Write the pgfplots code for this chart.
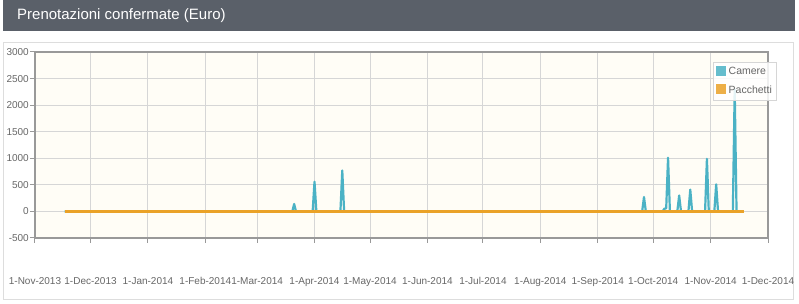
\documentclass[border=0pt]{standalone}
\usepackage{pgfplots}
\pgfplotsset{compat=1.18}
\usepackage{fontspec}
\setmainfont{Liberation Sans}
\definecolor{titlebar}{HTML}{5A6069}
\definecolor{panelborder}{HTML}{DDDDDD}
\definecolor{plotbg}{HTML}{FFFDF6}
\definecolor{gridc}{HTML}{D6D6D6}
\definecolor{axisc}{HTML}{999999}
\definecolor{tickc}{HTML}{666666}
\definecolor{camere}{HTML}{4BB2C5}
\definecolor{pacchetti}{HTML}{EAA228}
\begin{document}
\begin{tikzpicture}[x=1pt,y=1pt]
\useasboundingbox (0,0) rectangle (799,304);
\fill[titlebar] (3,273) rectangle (795,304);
\node[anchor=west,text=white,font=\fontsize{15}{18}\selectfont,inner sep=0pt] at (17,288) {Prenotazioni confermate (Euro)};
\draw[panelborder,line width=1pt] (3.5,261) rectangle (793.5,4.5);
\begin{axis}[
  at={(35pt,66pt)}, anchor=south west,
  scale only axis, width=733pt, height=186pt,
  xmin=0, xmax=396, ymin=-500, ymax=3000,
  xtick={0,30,61,92,120,151,181,212,242,273,304,334,365,396},
  xticklabels={1-Nov-2013,1-Dec-2013,1-Jan-2014,1-Feb-2014,1-Mar-2014,1-Apr-2014,1-May-2014,1-Jun-2014,1-Jul-2014,1-Aug-2014,1-Sep-2014,1-Oct-2014,1-Nov-2014,1-Dec-2014},
  ytick={-500,0,500,1000,1500,2000,2500,3000},
  yticklabels={-500,0,500,1000,1500,2000,2500,3000},
  grid=major,
  grid style={gridc, line width=1pt},
  axis background/.style={fill=plotbg},
  axis line style={axisc, line width=2pt},
  tick style={axisc, line width=1pt},
  major tick length=5pt,
  tick align=outside,
  xtick pos=bottom, ytick pos=left,
  ticklabel style={font=\fontsize{10}{12}\selectfont, text=tickc},
  xticklabel style={yshift=-34pt, inner sep=0pt},
  yticklabel style={inner sep=1pt},
  legend style={at={(1.011,0.946)}, anchor=north east, fill=white, fill opacity=0.85, text opacity=1, draw=gridc, font=\fontsize{10.5}{12}\selectfont, text=tickc, inner xsep=2pt, inner ysep=3pt, row sep=5pt, legend cell align=left},
  clip=true,
]
\addplot[camere, line width=2.2pt, line join=round,
  legend image code/.code={\draw[fill=camere,draw=white,line width=0.5pt] (0pt,-4.5pt) rectangle (11pt,6.5pt);}]
 coordinates {
 (16,0) (139,0) (140,140) (141,0) (150,0) (151,560) (152,0) (165,0) (166,770) (167,0)
 (328,0) (329,270) (330,0) (339,0) (340,50) (341,60) (342,1010) (343,0)
 (347,0) (348,300) (349,0) (353,0) (354,410) (355,0) (362,0) (363,990) (364,0)
 (367,0) (368,510) (369,0) (377,0) (378,2300) (379,0) (383,0)
 };
\addlegendentry{Camere}
\addplot[pacchetti, line width=2.2pt,
  legend image code/.code={\draw[fill=pacchetti,draw=white,line width=0.5pt] (0pt,-4.5pt) rectangle (11pt,6.5pt);}]
 coordinates {(16,0) (383,0)};
\addlegendentry{Pacchetti}
\end{axis}
\end{tikzpicture}
\end{document}
